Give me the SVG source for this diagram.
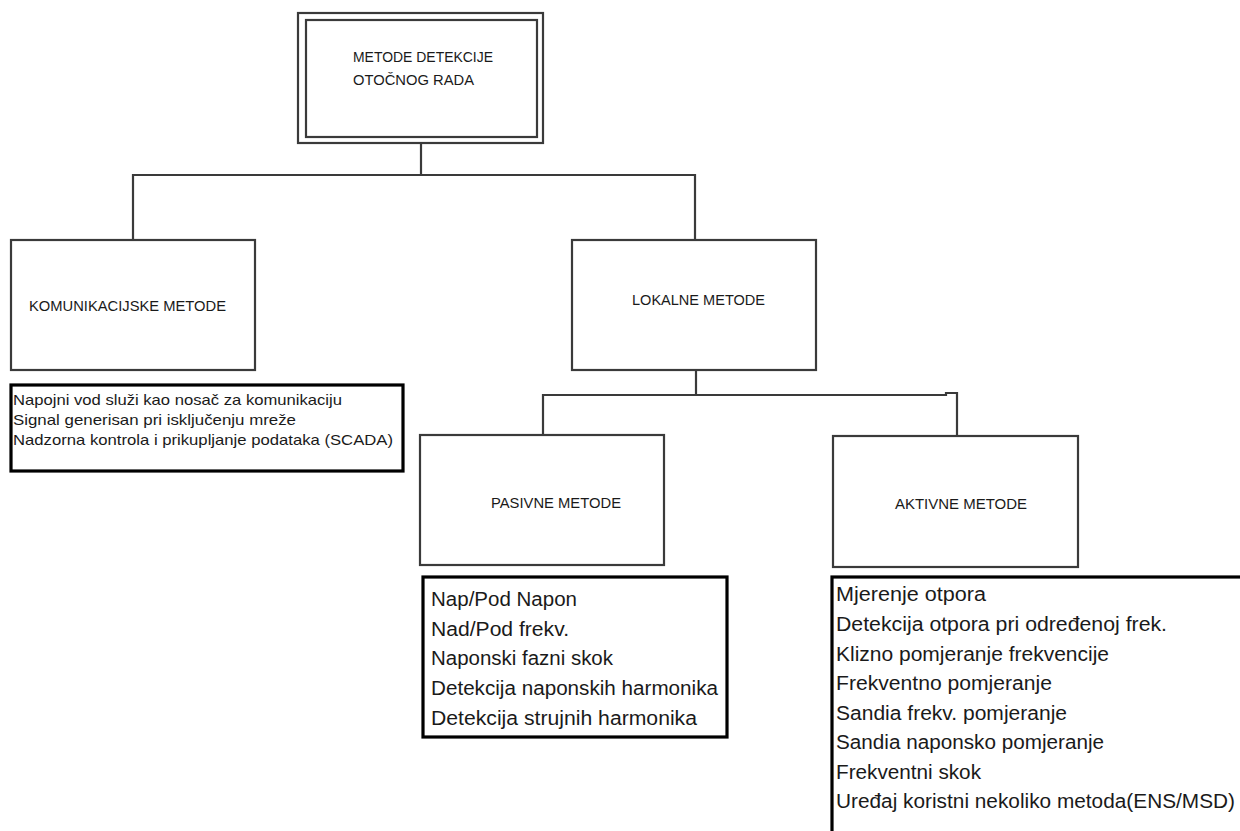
<svg xmlns="http://www.w3.org/2000/svg" width="1240" height="831" viewBox="0 0 1240 831">
<style>
.box{fill:#fff;stroke:#3a3a3a;stroke-width:2.2}
.list{fill:#fff;stroke:#000;stroke-width:3.2}
.conn{fill:none;stroke:#3a3a3a;stroke-width:2.2}
.t{font-family:"Liberation Sans",Arial,sans-serif;fill:#1a1a1a}
.title{font-size:14.5px}
.small{font-size:15px}
.big{font-size:20px}
</style>
<rect width="1240" height="831" fill="#fff"/>
<g id="connectors">
<path class="conn" d="M421,143 V175"/>
<path class="conn" d="M133,240 V175 H695 V240"/>
<path class="conn" d="M696,370 V395"/>
<path class="conn" d="M543,435 V395 H946 V393 H957 V436"/>
</g>
<g id="root">
<rect class="box" x="298" y="13" width="245" height="130"/>
<rect class="box" x="306" y="20" width="231" height="117"/>
<text class="t title" x="353" y="62" textLength="140" lengthAdjust="spacingAndGlyphs">METODE DETEKCIJE</text>
<text class="t title" x="353" y="85" textLength="121" lengthAdjust="spacingAndGlyphs">OTOČNOG RADA</text>
</g>
<g id="komunikacijske">
<rect class="box" x="11" y="240" width="244" height="130"/>
<text class="t title" x="29" y="311" textLength="197" lengthAdjust="spacingAndGlyphs">KOMUNIKACIJSKE METODE</text>
</g>
<g id="komunikacijske-list">
<rect class="list" x="11" y="385" width="392" height="86"/>
<text class="t small" x="13" y="405" textLength="329" lengthAdjust="spacingAndGlyphs">Napojni vod služi kao nosač za komunikaciju</text>
<text class="t small" x="13" y="425" textLength="283" lengthAdjust="spacingAndGlyphs">Signal generisan pri isključenju mreže</text>
<text class="t small" x="13" y="445" textLength="380" lengthAdjust="spacingAndGlyphs">Nadzorna kontrola i prikupljanje podataka (SCADA)</text>
</g>
<g id="lokalne">
<rect class="box" x="572" y="240" width="244" height="130"/>
<text class="t title" x="632" y="305" textLength="133" lengthAdjust="spacingAndGlyphs">LOKALNE METODE</text>
</g>
<g id="pasivne">
<rect class="box" x="420" y="435" width="244" height="130"/>
<text class="t title" x="491" y="508" textLength="130" lengthAdjust="spacingAndGlyphs">PASIVNE METODE</text>
</g>
<g id="pasivne-list">
<rect class="list" x="423" y="577" width="304" height="160"/>
<text class="t big" x="431" y="606" textLength="146" lengthAdjust="spacingAndGlyphs">Nap/Pod Napon</text>
<text class="t big" x="431" y="636" textLength="138" lengthAdjust="spacingAndGlyphs">Nad/Pod frekv.</text>
<text class="t big" x="431" y="665" textLength="182" lengthAdjust="spacingAndGlyphs">Naponski fazni skok</text>
<text class="t big" x="431" y="695" textLength="287" lengthAdjust="spacingAndGlyphs">Detekcija naponskih harmonika</text>
<text class="t big" x="431" y="725" textLength="266" lengthAdjust="spacingAndGlyphs">Detekcija strujnih harmonika</text>
</g>
<g id="aktivne">
<rect class="box" x="833" y="436" width="245" height="131"/>
<text class="t title" x="895" y="509" textLength="132" lengthAdjust="spacingAndGlyphs">AKTIVNE METODE</text>
</g>
<g id="aktivne-list">
<rect class="list" x="832" y="577" width="420" height="270"/>
<text class="t big" x="836" y="601" textLength="150" lengthAdjust="spacingAndGlyphs">Mjerenje otpora</text>
<text class="t big" x="836" y="631" textLength="331" lengthAdjust="spacingAndGlyphs">Detekcija otpora pri određenoj frek.</text>
<text class="t big" x="836" y="661" textLength="273" lengthAdjust="spacingAndGlyphs">Klizno pomjeranje frekvencije</text>
<text class="t big" x="836" y="690" textLength="216" lengthAdjust="spacingAndGlyphs">Frekventno pomjeranje</text>
<text class="t big" x="836" y="720" textLength="231" lengthAdjust="spacingAndGlyphs">Sandia frekv. pomjeranje</text>
<text class="t big" x="836" y="749" textLength="268" lengthAdjust="spacingAndGlyphs">Sandia naponsko pomjeranje</text>
<text class="t big" x="836" y="779" textLength="145" lengthAdjust="spacingAndGlyphs">Frekventni skok</text>
<text class="t big" x="836" y="808" textLength="399" lengthAdjust="spacingAndGlyphs">Uređaj koristni nekoliko metoda(ENS/MSD)</text>
</g>
</svg>
